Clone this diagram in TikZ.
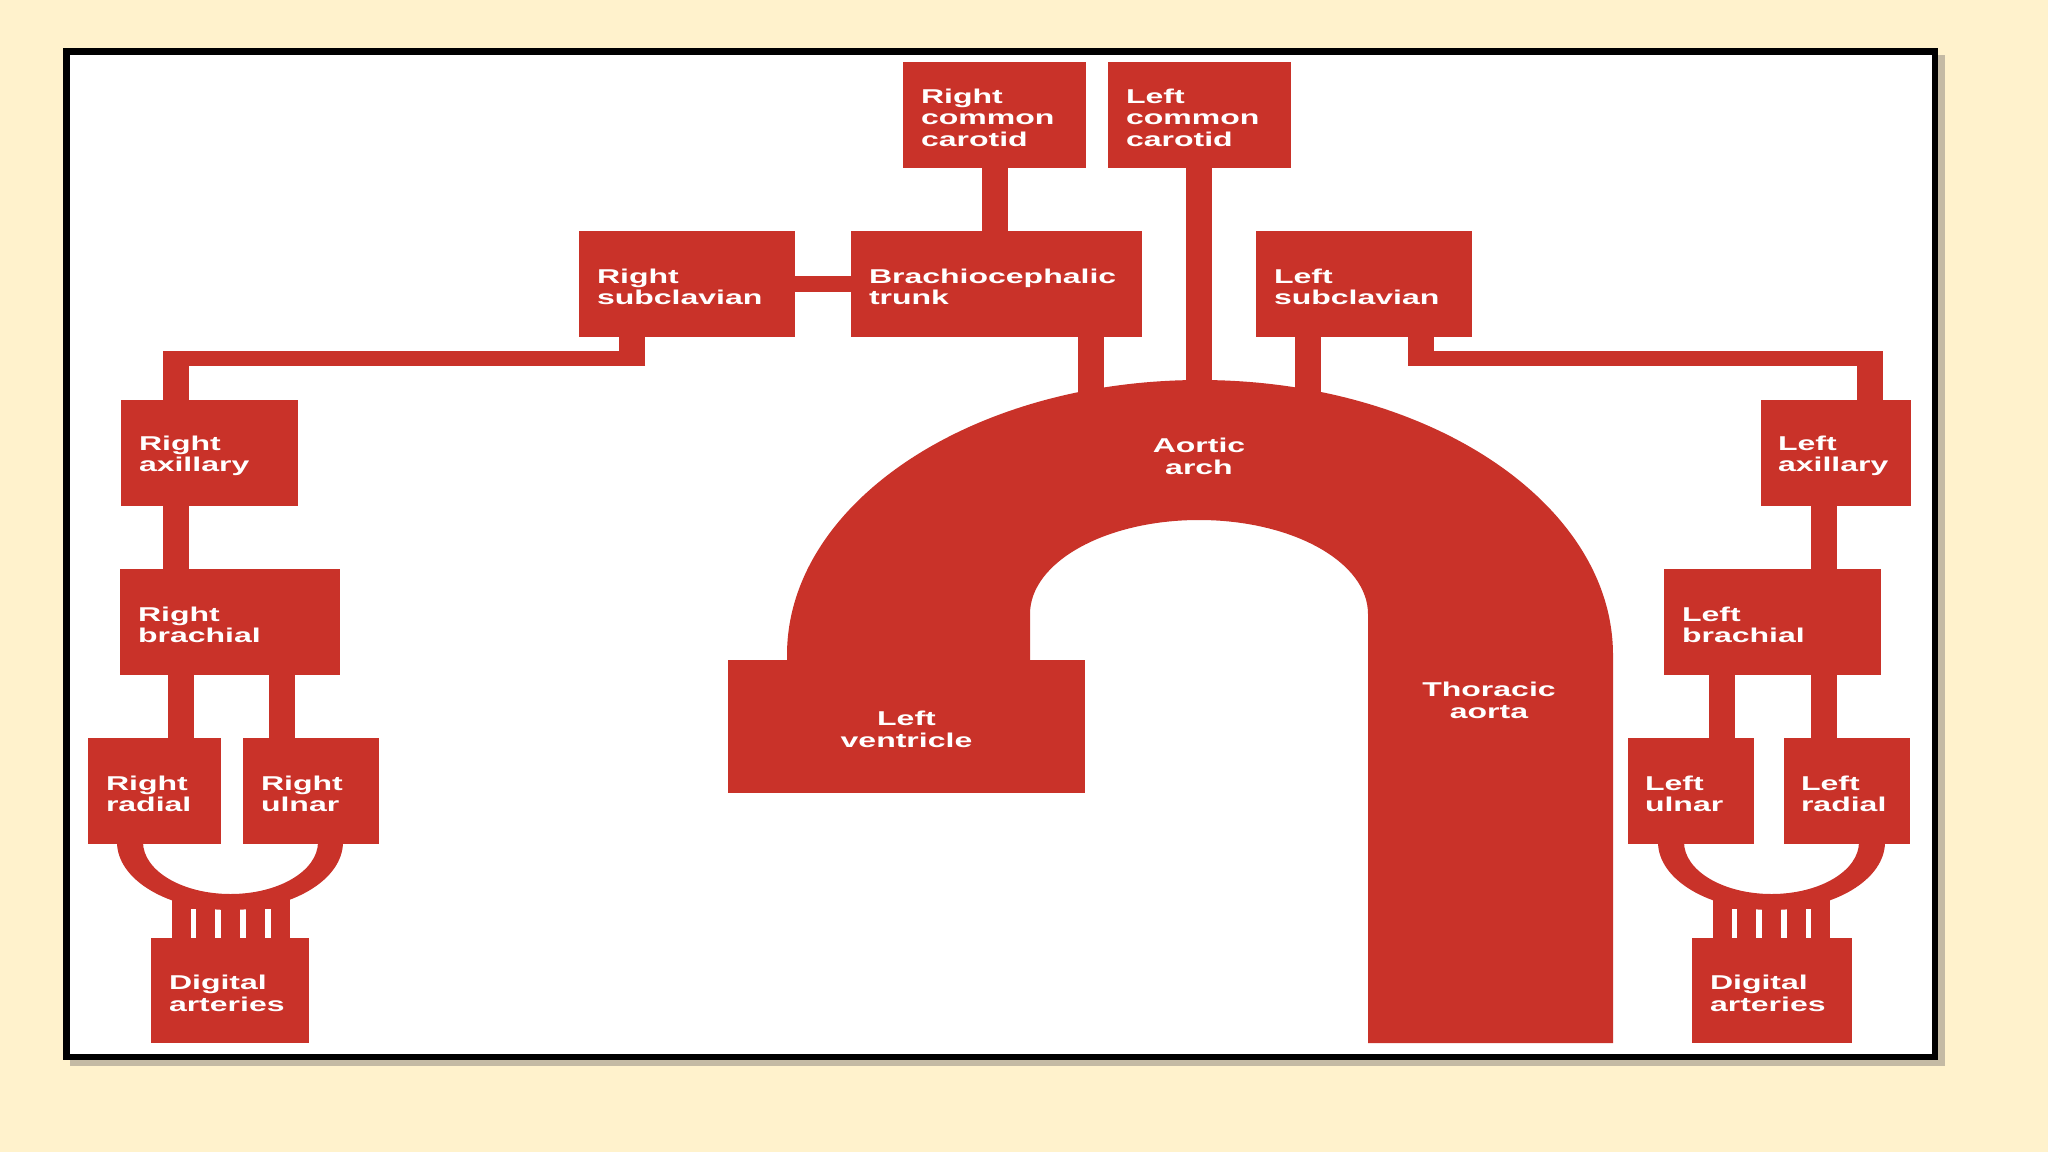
\documentclass[tikz,border=0pt]{standalone}
\usepackage{fontspec}
\newfontfamily\boxfont{Liberation Sans}[FakeStretch=1.6]
\usetikzlibrary{calc}
\definecolor{aored}{RGB}{201,50,41}
\definecolor{bgcream}{RGB}{255,242,204}
\definecolor{shadowc}{RGB}{196,186,164}
\begin{document}
\begin{tikzpicture}[x=1pt,y=-1pt,
  txt/.style={text=white, font=\boxfont\bfseries\fontsize{20}{21.7}\selectfont},
  box/.style={txt, fill=aored, inner xsep=18pt, inner ysep=0pt, outer sep=0pt, align=left, anchor=north west,
    execute at begin node={\rule{0pt}{20pt}}},
  lbl/.style={txt, align=center, inner sep=0pt},
  vl/.style={draw=aored, line width=26pt},
  hl/.style={draw=aored, line width=15.5pt},
  dig/.style={draw=aored, line width=19pt}]
% background and frame
\fill[bgcream] (0,0) rectangle (2048,1152);
\useasboundingbox (0,0) rectangle (2048,1152);
\fill[shadowc] (70,55) rectangle (1945,1066);
\draw[black, line width=6.5pt, fill=white] (66.25,51.25) rectangle (1934.75,1056.75);

% aorta (arch + thoracic)
\fill[aored] (787,662) -- (787,655)
  arc[start angle=180, end angle=0, x radius=413pt, y radius=275pt]
  -- (1613,1043) -- (1368,1043) -- (1368,614)
  arc[start angle=0, end angle=180, x radius=169pt, y radius=94pt]
  -- (1030,662) -- cycle;

% boxes
\node[box, minimum width=183pt, minimum height=106pt, text width=147pt] (rcc) at (903,62) {Right\\common\\carotid};
\node[box, minimum width=183pt, minimum height=106pt, text width=147pt] (lcc) at (1108,62) {Left\\common\\carotid};
\node[box, minimum width=291pt, minimum height=106pt, text width=255pt] (bt) at (851,231) {Brachiocephalic\\trunk};
\node[box, minimum width=216pt, minimum height=106pt, text width=180pt] (rs) at (579,231) {Right\\subclavian};
\node[box, minimum width=216pt, minimum height=106pt, text width=180pt] (ls) at (1256,231) {Left\\subclavian};
\node[box, minimum width=177pt, minimum height=106pt, text width=141pt] (ra) at (121,400) {Right\\axillary};
\node[box, minimum width=150pt, minimum height=106pt, text width=116pt, inner xsep=17pt] (la) at (1761,400) {Left\\axillary};
\node[box, minimum width=220pt, minimum height=106pt, text width=184pt] (rb) at (120,569) {Right\\brachial};
\node[box, minimum width=217pt, minimum height=106pt, text width=181pt] (lb) at (1664,569) {Left\\brachial};
\node[box, minimum width=133pt, minimum height=106pt, text width=97pt] (rr) at (88,738) {Right\\radial};
\node[box, minimum width=136pt, minimum height=106pt, text width=100pt] (ru) at (243,738) {Right\\ulnar};
\node[box, minimum width=126pt, minimum height=106pt, text width=92pt, inner xsep=17pt] (lu) at (1628,738) {Left\\ulnar};
\node[box, minimum width=126pt, minimum height=106pt, text width=92pt, inner xsep=17pt] (lr) at (1784,738) {Left\\radial};
\node[box, minimum width=158pt, minimum height=105pt, text width=122pt] (rd) at (151,938) {Digital\\arteries};
\node[box, minimum width=160pt, minimum height=105pt, text width=124pt] (ld) at (1692,938) {Digital\\arteries};
\node[box, minimum width=357pt, minimum height=133pt, text width=321pt, align=center] (lv) at (728,660) {Left\\ventricle};

% labels on the aorta
\node[lbl] (arch) at (1199,456) {Aortic\\arch};
\node[lbl] (thor) at (1489,700) {Thoracic\\aorta};

% connector x positions and bends
\coordinate (xrcc) at (995,0);
\coordinate (xbt) at (1091,0);
\coordinate (xlcc) at (1199,0);
\coordinate (xls) at (1308,0);
\coordinate (archin) at (1199,405);
\coordinate (xra) at (176,0);
\coordinate (xrr) at (181,0);
\coordinate (xru) at (282,0);
\coordinate (xlu) at (1721.5,0);
\coordinate (xlr) at (1824,0);
\coordinate (xlab) at (1824,0);
\coordinate (rse) at (632,366.25);
\coordinate (rbarE) at (645,358.5);
\coordinate (rbarW) at (163,358.5);
\coordinate (rsw) at (176,351);
\coordinate (lse) at (1421,366.25);
\coordinate (lbarW) at (1408,358.5);
\coordinate (lbarE) at (1883,358.5);
\coordinate (lsw) at (1870,351);

% connectors
\draw[vl] (rcc.south -| xrcc) -- (bt.north -| xrcc);
\draw[vl] (lcc.south -| xlcc) -- (archin -| xlcc);
\draw[vl] (bt.south -| xbt) -- (archin -| xbt);
\draw[vl] (ls.south -| xls) -- (archin -| xls);
\draw[hl] (rs.east) -- (bt.west);
\draw[vl] (rs.south -| rse) -- (rse);
\draw[hl] (rbarE) -- (rbarW);
\draw[vl] (rsw) -- (ra.north -| rsw);
\draw[vl] (ls.south -| lse) -- (lse);
\draw[hl] (lbarW) -- (lbarE);
\draw[vl] (lsw) -- (la.north -| lsw);
\draw[vl] (ra.south -| xra) -- (rb.north -| xra);
\draw[vl] (la.south -| xlab) -- (lb.north -| xlab);
\draw[vl] (rb.south -| xrr) -- (rr.north -| xrr);
\draw[vl] (rb.south -| xru) -- (ru.north -| xru);
\draw[vl] (lb.south -| xlu) -- (lu.north -| xlu);
\draw[vl] (lb.south -| xlr) -- (lr.north -| xlr);

% palmar arches (right and left)
\fill[aored] (117,842)
  arc[start angle=180, end angle=360, x radius=113pt, y radius=68pt]
  -- (318,842)
  arc[start angle=0, end angle=-180, x radius=87.5pt, y radius=52pt]
  -- cycle;
\fill[aored] (172,895) rectangle (290,909);
\foreach \sx in {181,205.5,230.5,255.5,280.5}
  \draw[dig] (\sx,905) -- (\sx,939);

\fill[aored] (1658,842)
  arc[start angle=180, end angle=360, x radius=113.5pt, y radius=68pt]
  -- (1859,842)
  arc[start angle=0, end angle=-180, x radius=87.5pt, y radius=52pt]
  -- cycle;
\fill[aored] (1713,895) rectangle (1830,909);
\foreach \sx in {1722,1746.5,1771.5,1796,1820.5}
  \draw[dig] (\sx,905) -- (\sx,939);
\end{tikzpicture}
\end{document}
